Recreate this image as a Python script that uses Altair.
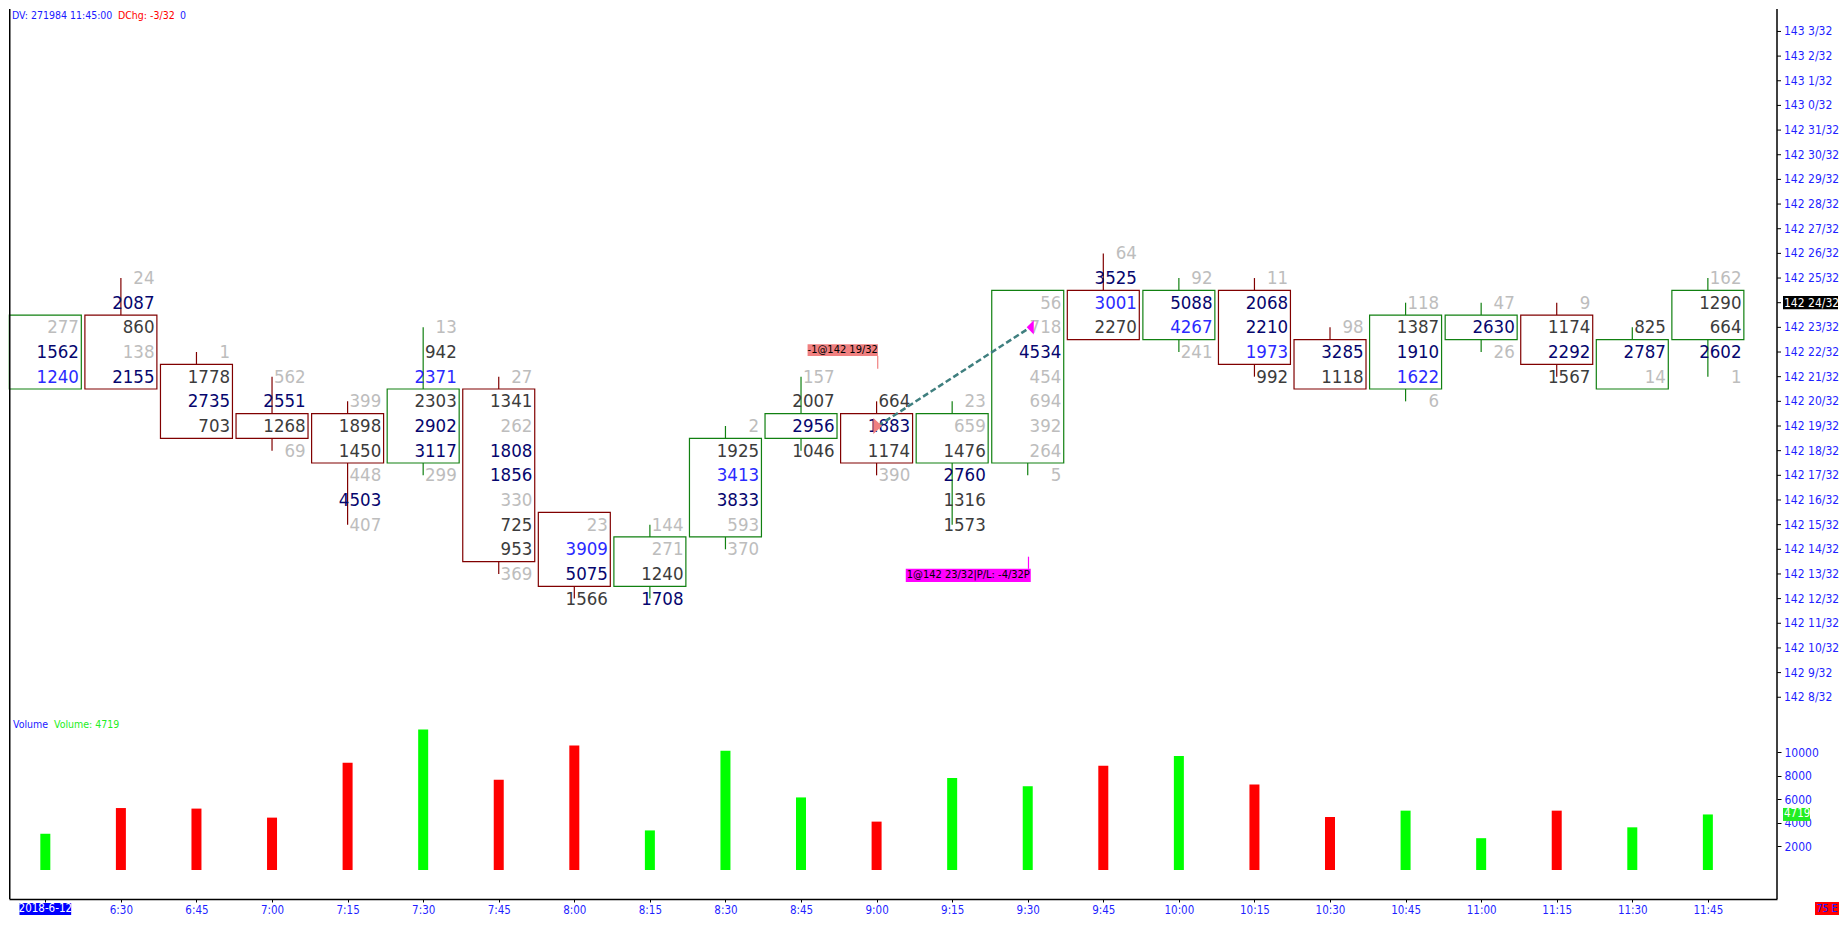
import json
import altair as alt
import pandas as pd

# ---------------- data (prices in 32nds above 142) ----------------
times = ["2018-6-12", "6:30", "6:45", "7:00", "7:15", "7:30", "7:45", "8:00", "8:15",
         "8:30", "8:45", "9:00", "9:15", "9:30", "9:45", "10:00", "10:15", "10:30",
         "10:45", "11:00", "11:15", "11:30", "11:45"]
opens = [21, 23, 21, 19, 19, 18, 20, 15, 13, 15, 19, 19, 18, 18, 24, 23, 24, 22, 21, 23, 23, 21, 23]
closes = [23, 21, 19, 19, 18, 20, 14, 13, 14, 18, 19, 18, 19, 24, 23, 24, 22, 21, 23, 23, 22, 22, 24]
highs = [23, 25, 22, 21, 20, 23, 21, 15, 15, 19, 21, 20, 20, 24, 26, 25, 25, 23, 24, 24, 24, 23, 25]
lows = [21, 21, 19, 18, 15, 17, 13, 12, 12, 14, 18, 17, 15, 17, 23, 22, 21, 21, 20, 22, 21, 21, 21]
bar_up = [True, False, False, False, False, True, False, False, True, True, True, False,
          True, True, False, True, False, False, True, True, False, True, True]
# volume at each price level, from the bar's high down to its low
footprint = [
    [277, 1562, 1240],
    [24, 2087, 860, 138, 2155],
    [1, 1778, 2735, 703],
    [562, 2551, 1268, 69],
    [399, 1898, 1450, 448, 4503, 407],
    [13, 942, 2371, 2303, 2902, 3117, 299],
    [27, 1341, 262, 1808, 1856, 330, 725, 953, 369],
    [23, 3909, 5075, 1566],
    [144, 271, 1240, 1708],
    [2, 1925, 3413, 3833, 593, 370],
    [157, 2007, 2956, 1046],
    [664, 1883, 1174, 390],
    [23, 659, 1476, 2760, 1316, 1573],
    [56, 718, 4534, 454, 694, 392, 264, 5],
    [64, 3525, 3001, 2270],
    [92, 5088, 4267, 241],
    [11, 2068, 2210, 1973, 992],
    [98, 3285, 1118],
    [118, 1387, 1910, 1622, 6],
    [47, 2630, 26],
    [9, 1174, 2292, 1567],
    [825, 2787, 14],
    [162, 1290, 664, 2602, 1],
]
# text shade of each cell: L light grey, D dark grey, N navy, B blue
shades = ["LNB", "LNDLN", "LDND", "LNDL", "LDDLNL", "LDBDNNL", "LDLNNLDDL", "LBND", "LLDN",
          "LDBNLL", "LDND", "DNDL", "LLDNDD", "LLNLLLLL", "LNBD", "LNBL", "LNNBD", "LND",
          "LDNBL", "LNL", "LDND", "DNL", "LDDNL"]
volumes = [3079, 5264, 5217, 4450, 9105, 11947, 7671, 10573, 3363, 10136, 6166, 4111,
           7807, 7117, 8860, 9688, 7254, 4501, 5043, 2703, 5042, 3626, 4719]

price_tick_values = [8, 9, 10, 11, 12, 13, 14, 15, 16, 17, 18, 19, 20, 21, 22, 23, 24, 25,
                     26, 27, 28, 29, 30, 31, 32, 33, 34, 35]
price_tick_labels = ["142 8/32", "142 9/32", "142 10/32", "142 11/32", "142 12/32", "142 13/32",
                     "142 14/32", "142 15/32", "142 16/32", "142 17/32", "142 18/32", "142 19/32",
                     "142 20/32", "142 21/32", "142 22/32", "142 23/32", "142 24/32", "142 25/32",
                     "142 26/32", "142 27/32", "142 28/32", "142 29/32", "142 30/32", "142 31/32",
                     "143 0/32", "143 1/32", "143 2/32", "143 3/32"]
volume_tick_values = [2000, 4000, 6000, 8000, 10000]
header = ["DV: 271984 11:45:00", "DChg: -3/32", "0"]
volume_title = ["Volume", "Volume: 4719"]
last_price = 24
last_volume = 4719
sell_bar, sell_price, sell_label = 11, 19, "-1@142 19/32"
buy_bar, buy_price, buy_label = 13, 23, "1@142 23/32|P/L: -4/32P"
corner_tag = "75 E"

# ---------------- layout / style ----------------
W, H = 1768, 890
FONT = "Tahoma, 'DejaVu Sans Condensed', 'Liberation Sans', Arial, sans-serif"
PITCH = 24.66      # px per 1/32
Y24 = 293.7        # px of level 24
STEP = 76.0        # px per bar
X0 = 31.5          # px of first bar
VK = 117.7 / 10000  # px per contract
VZ = 861.0         # px of zero volume
UP, DN = "#118011", "#800000"
VUP, VDN = "#00ff00", "#ff0000"
SHADE = {"L": "#bdbdbd", "D": "#3c3c3c", "N": "#06066e", "B": "#2b2bff"}
AXC = "#1f1fff"

xs = alt.Scale(domain=[-X0 / STEP, (W - X0) / STEP], nice=False, zero=False)
ps = alt.Scale(domain=[24 - (H - Y24) / PITCH, 24 + Y24 / PITCH], nice=False, zero=False)
vs = alt.Scale(domain=[-(H - VZ) / VK, VZ / VK], nice=False, zero=False)


def xq(f, axis=alt.Undefined):
    return alt.X(f, type="quantitative", scale=xs, axis=axis)


def pq(f):
    # the price axis is drawn with marks below, so every price layer disables the axis
    return alt.Y(f, type="quantitative", scale=ps, axis=None)


def vq(f, axis=alt.Undefined):
    return alt.Y(f, type="quantitative", scale=vs, axis=axis)


HALF = 0.4763
cell_rows, wick_rows, box_rows, vol_rows = [], [], [], []
for i in range(len(times)):
    top, bot = max(opens[i], closes[i]), min(opens[i], closes[i])
    col = UP if bar_up[i] else DN
    box_rows.append({"x": i - HALF, "x2": i + HALF, "y": top + 0.5, "y2": bot - 0.5, "c": col})
    if highs[i] > top:
        wick_rows.append({"x": i, "y": highs[i], "y2": top + 0.5, "c": col})
    if lows[i] < bot:
        wick_rows.append({"x": i, "y": bot - 0.5, "y2": lows[i], "c": col})
    for j, (v, s) in enumerate(zip(footprint[i], shades[i])):
        cell_rows.append({"x": i + 0.445, "y": highs[i] - j, "t": str(v), "c": SHADE[s]})
    vol_rows.append({"x": i, "v": volumes[i], "c": VUP if bar_up[i] else VDN})

cells = pd.DataFrame(cell_rows)
wicks = pd.DataFrame(wick_rows)
boxes = pd.DataFrame(box_rows)
vols = pd.DataFrame(vol_rows)

vol_axis = alt.Axis(orient="right", values=volume_tick_values, format="d", title=None,
                    grid=False, domain=False, ticks=True, tickColor="black", tickSize=4,
                    labels=True, labelColor=AXC, labelFont=FONT, labelFontSize=12, labelPadding=3,
                    labelOverlap=False, labelBound=False, zindex=0)
time_labels_shown = [""] + times[1:]
x_axis = alt.Axis(orient="bottom", values=list(range(len(times))),
                  labelExpr=json.dumps(time_labels_shown) + "[round(datum.value)]",
                  title=None, grid=False, domain=True, domainColor="black", domainWidth=1.5,
                  ticks=True, tickColor="black", tickSize=3, labels=True, labelColor=AXC,
                  labelFont=FONT, labelFontSize=11.5, labelPadding=2, labelOverlap=False,
                  labelFlush=False, labelBound=False, zindex=0)

# ---------------- price panel ----------------
box_layer = alt.Chart(boxes).mark_rect(fill="transparent", strokeWidth=1.2).encode(
    x=xq("x", x_axis), x2="x2", y=pq("y"), y2="y2", stroke=alt.Stroke("c:N", scale=None))
wick_layer = alt.Chart(wicks).mark_rule(strokeWidth=1.2).encode(
    x=xq("x"), y=pq("y"), y2="y2", color=alt.Color("c:N", scale=None))
cell_layer = alt.Chart(cells).mark_text(align="right", baseline="middle", font=FONT,
                                        fontSize=18.5).encode(
    x=xq("x"), y=pq("y"), text="t:N", color=alt.Color("c:N", scale=None))

# price scale guide: right border, ticks and labels
price_guide = pd.DataFrame({"v": price_tick_values,
                            "t": [("" if v == last_price else t)
                                  for v, t in zip(price_tick_values, price_tick_labels)]})
right_border = alt.Chart(pd.DataFrame({"a": [0]})).mark_rule(color="black", strokeWidth=1.5).encode(
    x=alt.value(W), y=alt.value(0), y2=alt.value(H))
price_ticks = alt.Chart(price_guide).mark_rule(color="black", strokeWidth=1).encode(
    x=alt.value(W), x2=alt.value(W + 4), y=pq("v"))
price_labels = alt.Chart(price_guide).mark_text(align="left", baseline="middle", font=FONT,
                                                fontSize=12, color=AXC).encode(
    x=alt.value(W + 7), y=pq("v"), text="t:N")

sell_df = pd.DataFrame({
    "bx": [sell_bar + 0.017 - 70.7 / STEP], "bx2": [sell_bar + 0.017],
    "by": [sell_price + 2.84], "by2": [sell_price + 3.32],
    "tx": [sell_bar + 0.017 - 35.35 / STEP], "ty": [sell_price + 3.08],
    "sx": [sell_bar + 0.015], "sy": [sell_price + 2.32], "sy2": [sell_price + 2.84],
    "px": [sell_bar + 0.015], "py": [sell_price], "t": [sell_label]})
buy_df = pd.DataFrame({
    "bx": [buy_bar + 0.04 - 125.7 / STEP], "bx2": [buy_bar + 0.04],
    "by": [buy_price - 10.33], "by2": [buy_price - 9.79],
    "tx": [buy_bar + 0.04 - 62.85 / STEP], "ty": [buy_price - 10.06],
    "sx": [buy_bar + 0.01], "sy": [buy_price - 9.79], "sy2": [buy_price - 9.30],
    "px": [buy_bar + 0.033], "py": [buy_price], "t": [buy_label]})
trade_line = pd.DataFrame({"x": [sell_bar + 0.015, buy_bar + 0.033], "y": [sell_price, buy_price]})

SALMON, MAGENTA = "#f08080", "#ff00ff"
sell_layers = [
    alt.Chart(sell_df).mark_rule(color=SALMON, strokeWidth=1.2).encode(x=xq("sx"), y=pq("sy"), y2="sy2"),
    alt.Chart(sell_df).mark_rect(color=SALMON).encode(x=xq("bx"), x2="bx2", y=pq("by"), y2="by2"),
    alt.Chart(sell_df).mark_text(font=FONT, fontSize=11, color="black", baseline="middle").encode(
        x=xq("tx"), y=pq("ty"), text="t:N"),
]
buy_layers = [
    alt.Chart(buy_df).mark_rule(color=MAGENTA, strokeWidth=1.2).encode(x=xq("sx"), y=pq("sy"), y2="sy2"),
    alt.Chart(buy_df).mark_rect(color=MAGENTA).encode(x=xq("bx"), x2="bx2", y=pq("by"), y2="by2"),
    alt.Chart(buy_df).mark_text(font=FONT, fontSize=11, color="black", baseline="middle").encode(
        x=xq("tx"), y=pq("ty"), text="t:N"),
]
dash_layer = alt.Chart(trade_line).mark_line(color="#3f7f7f", strokeWidth=2.5,
                                              strokeDash=[6, 3]).encode(x=xq("x"), y=pq("y"))
sell_tri = alt.Chart(sell_df).mark_point(shape="M-0.55,-1L0.55,0L-0.55,1Z", filled=True,
                                         size=256, opacity=1, color=SALMON, dx=-4.4).encode(
    x=xq("px"), y=pq("py"))
buy_tri = alt.Chart(buy_df).mark_point(shape="M0.5,-1L-0.5,0L0.5,1Z", filled=True,
                                       size=200, opacity=1, color=MAGENTA, dx=3.6).encode(
    x=xq("px"), y=pq("py"))

hdr_x = [3, 109, 171]
hdr_c = ["#1a1aff", "#ff0000", "#1a1aff"]
hdr_layers = [alt.Chart(pd.DataFrame({"t": [header[k]]})).mark_text(
    align="left", baseline="middle", font=FONT, fontSize=10.5, color=hdr_c[k]).encode(
    x=alt.value(hdr_x[k]), y=alt.value(6.5), text="t:N") for k in range(3)]

left_border = alt.Chart(pd.DataFrame({"a": [0]})).mark_rule(color="black", strokeWidth=1.5).encode(
    x=alt.value(0.75), y=alt.value(0), y2=alt.value(H))

last_df = pd.DataFrame({"y": [last_price - 0.27], "y2": [last_price + 0.27], "yc": [last_price],
                        "t": [price_tick_labels[price_tick_values.index(last_price)]]})
last_box = alt.Chart(last_df).mark_rect(color="black").encode(
    x=alt.value(W + 6), x2=alt.value(W + 61), y=pq("y"), y2="y2")
last_txt = alt.Chart(last_df).mark_text(align="left", baseline="middle", font=FONT, fontSize=12,
                                        color="white").encode(
    x=alt.value(W + 7), y=pq("yc"), text="t:N")

price_group = alt.layer(box_layer, wick_layer, cell_layer, *sell_layers, *buy_layers, dash_layer,
                        sell_tri, buy_tri, *hdr_layers, left_border, right_border, price_ticks,
                        price_labels, last_box, last_txt)

# ---------------- volume panel ----------------
vol_layer = alt.Chart(vols).mark_bar(size=10, orient="vertical").encode(
    x=xq("x"), y=vq("v", vol_axis), y2=alt.Y2(datum=0), color=alt.Color("c:N", scale=None))

vt_layers = [
    alt.Chart(pd.DataFrame({"t": [volume_title[0]]})).mark_text(
        align="left", baseline="middle", font=FONT, fontSize=10.5, color="#1a1aff").encode(
        x=alt.value(4), y=alt.value(716), text="t:N"),
    alt.Chart(pd.DataFrame({"t": [volume_title[1]]})).mark_text(
        align="left", baseline="middle", font=FONT, fontSize=10.5, color="#22ee22").encode(
        x=alt.value(45), y=alt.value(716), text="t:N"),
]
lv_df = pd.DataFrame({"y": [last_volume - 6.5 / VK], "y2": [last_volume + 6.5 / VK],
                      "yc": [last_volume], "t": [str(last_volume)]})
lv_box = alt.Chart(lv_df).mark_rect(color="#22ee22").encode(
    x=alt.value(W + 6), x2=alt.value(W + 33), y=vq("y"), y2="y2")
lv_txt = alt.Chart(lv_df).mark_text(align="left", baseline="middle", font=FONT, fontSize=11.5,
                                    color="white").encode(
    x=alt.value(W + 7), y=vq("yc"), text="t:N")

d0 = pd.DataFrame({"x": [0 - 26.0 / STEP], "x2": [0 + 26.0 / STEP], "xc": [0], "t": [times[0]]})
date_box = alt.Chart(d0).mark_rect(color="#0000ff").encode(
    x=xq("x"), x2="x2", y=alt.value(H + 4), y2=alt.value(H + 16))
date_txt = alt.Chart(d0).mark_text(baseline="middle", font=FONT, fontSize=11.5, color="white").encode(
    x=xq("xc"), y=alt.value(H + 10), text="t:N")

tag_box = alt.Chart(pd.DataFrame({"t": [corner_tag]})).mark_rect(color="#ff0000").encode(
    x=alt.value(W + 38), x2=alt.value(W + 62), y=alt.value(H + 3), y2=alt.value(H + 16))
tag_txt = alt.Chart(pd.DataFrame({"t": [corner_tag]})).mark_text(
    baseline="middle", font=FONT, fontSize=10.5, color="#1a1aff").encode(
    x=alt.value(W + 50), y=alt.value(H + 9.5), text="t:N")

vol_group = alt.layer(vol_layer, *vt_layers, lv_box, lv_txt, date_box, date_txt, tag_box, tag_txt)

chart = alt.layer(price_group, vol_group).resolve_scale(y="independent").properties(
    width=W, height=H, background="white", padding=0
).configure_view(stroke=None)

chart.save("out.html", embed_options={"renderer": "svg", "actions": False})
